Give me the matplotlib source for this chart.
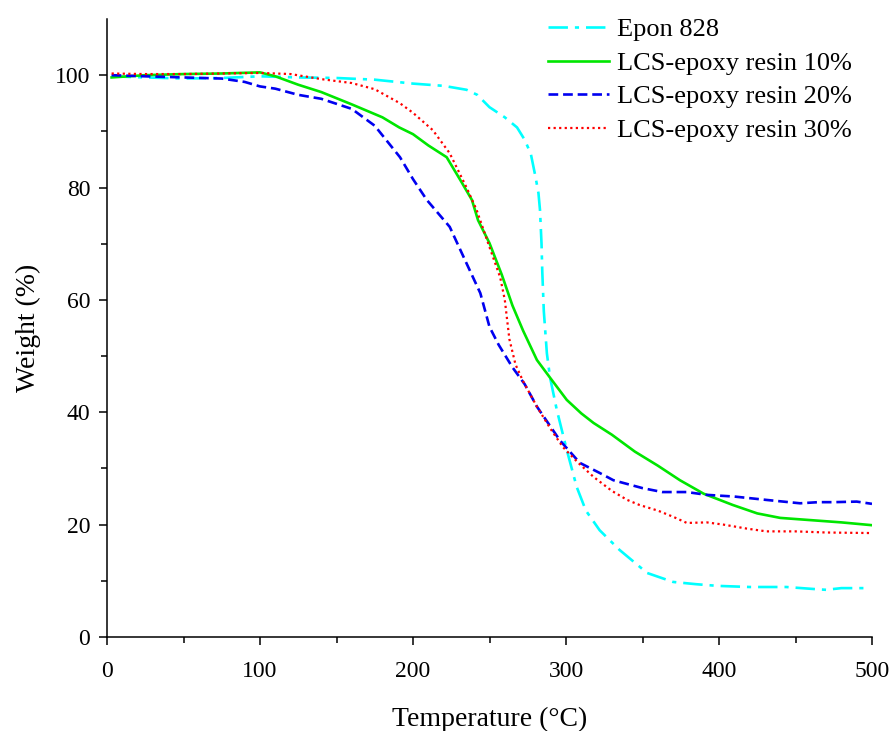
import numpy as np
import matplotlib
matplotlib.use("Agg")
import matplotlib.pyplot as plt

plt.rcParams['font.family'] = ['Liberation Serif', 'DejaVu Serif']
plt.rcParams['lines.scale_dashes'] = False

# Epon 828
t_epon = [3, 25, 50, 75, 100, 125, 150, 175, 200, 220, 235, 242, 250, 260, 268, 273,
          277, 280, 282, 283, 284, 284.5, 285.5, 287.5, 289.5, 294, 300.5, 307, 313,
          322, 335, 353, 370, 385, 399, 420, 444, 464, 470, 480, 497]
w_epon = [99.8, 99.6, 99.4, 99.5, 99.8, 99.6, 99.5, 99.2, 98.5, 98.1, 97.4, 96.5,
          94.3, 92.5, 90.7, 88.5, 86, 82, 79, 76, 70, 65, 58, 50.5, 46.3, 40.4, 33.3,
          26.7, 22.5, 19, 15.5, 11.4, 9.8, 9.4, 9.1, 8.9, 8.9, 8.5, 8.4, 8.7, 8.7]

# LCS-epoxy resin 10%
t_10 = [3, 25, 50, 75, 100, 110, 125, 140, 160, 180, 191, 200, 210, 222, 231, 238.5,
        242.5, 250, 258, 265, 272, 281, 290, 300.5, 310, 318, 330, 345, 360, 374.5,
        390, 409, 425, 440, 460, 480, 500]
w_10 = [99.6, 100, 100.2, 100.3, 100.5, 99.8, 98.3, 97, 94.8, 92.5, 90.7, 89.5, 87.5,
        85.4, 81.3, 77.8, 74.2, 70.1, 64.5, 59, 54.5, 49.3, 46, 42.2, 39.8, 38.1, 36,
        33, 30.5, 27.9, 25.5, 23.5, 22, 21.2, 20.8, 20.4, 19.9]

# LCS-epoxy resin 20%
t_20 = [3, 25, 50, 75, 90, 100, 110, 125, 140, 160, 175, 191.5, 200, 209, 224, 235,
        244, 250, 256, 265, 273, 281, 296, 309, 322, 331, 350, 363, 379, 392, 410,
        431, 453, 465, 475, 490, 500]
w_20 = [100, 99.8, 99.6, 99.4, 98.8, 98, 97.6, 96.5, 95.8, 94, 91, 85.4, 81.5, 77.8,
        73, 66.5, 61.2, 55.2, 52, 48, 45, 41, 35, 31, 29.2, 27.9, 26.5, 25.8, 25.8,
        25.3, 25, 24.4, 23.8, 24, 24, 24.1, 23.7]

# LCS-epoxy resin 30%
t_30 = [3, 25, 50, 75, 100, 120, 140, 160, 175, 191.5, 200, 213, 224, 235, 241.6,
        250, 257, 260, 263, 267, 272, 281, 290, 298, 308, 318, 330, 340, 348, 360,
        370, 379, 392, 403, 418, 431, 450, 470, 500]
w_30 = [100.3, 100.2, 100.2, 100.3, 100.4, 100.2, 99.3, 98.6, 97.5, 95, 93.3, 90.2,
        86.1, 80, 76, 69.4, 64, 60, 53, 48.5, 45.5, 41, 37, 33.8, 31, 28.5, 26, 24.4,
        23.5, 22.5, 21.4, 20.3, 20.4, 20, 19.3, 18.8, 18.8, 18.6, 18.5]

fig = plt.figure(figsize=(8.94, 7.31), dpi=100)
ax = fig.add_axes([107 / 894, 94 / 731, 765 / 894, 618 / 731])

ax.plot(t_epon, w_epon, color='#00FFFF', lw=1.9, dashes=(14, 5, 3, 5), label='Epon 828')
ax.plot(t_10, w_10, color='#00E600', lw=1.9, label='LCS-epoxy resin 10%')
ax.plot(t_20, w_20, color='#0000F0', lw=1.9, dashes=(7, 3.5), label='LCS-epoxy resin 20%')
ax.plot(t_30, w_30, color='#FF0000', lw=1.6, dashes=(1.6, 2.4), label='LCS-epoxy resin 30%')

ax.set_xlim(0, 500)
ax.set_ylim(0, 110)
ax.set_xticks(np.arange(0, 501, 100))
ax.set_xticks(np.arange(50, 500, 100), minor=True)
ax.set_yticks(np.arange(0, 101, 20))
ax.set_yticks(np.arange(10, 110, 20), minor=True)
ax.spines['top'].set_visible(False)
ax.spines['right'].set_visible(False)
for s in ['left', 'bottom']:
    ax.spines[s].set_linewidth(1.1)
ax.tick_params(which='major', direction='out', length=6, width=1.1, labelsize=17)
ax.tick_params(which='minor', direction='out', length=4, width=1.1)
ax.tick_params(axis='x', pad=11)
ax.tick_params(axis='y', pad=6)

ax.set_xlabel('Temperature (\u00b0C)', fontsize=20, labelpad=18)
ax.set_ylabel('Weight (%)', fontsize=20, labelpad=10)

ax.legend(loc='upper left', bbox_to_anchor=(548 / 894, 1 - 18 / 731),
          bbox_transform=fig.transFigure, frameon=False, fontsize=19,
          handlelength=2.3, handletextpad=0.3, labelspacing=0.38, borderpad=0,
          borderaxespad=0)

fig.savefig('out.png', dpi=100)
